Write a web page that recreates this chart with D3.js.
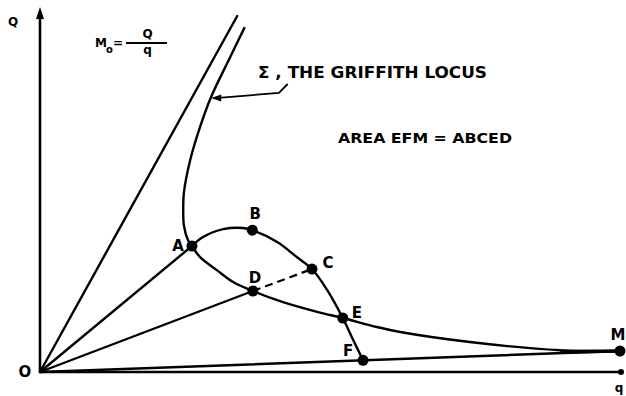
<!DOCTYPE html>
<html>
<head>
<meta charset="utf-8">
<script src="https://cdn.jsdelivr.net/npm/d3@7/dist/d3.min.js"></script>
<style>
  html, body { margin: 0; padding: 0; background: #fff; }
  svg text { font-family: "DejaVu Sans", "Liberation Sans", sans-serif; font-weight: bold; fill: #000; }
</style>
</head>
<body>
<svg id="chart" width="626" height="396"></svg>
<script>
// Load per unit crack length: the Griffith locus and the construction for M0 = Q/q.
// Units are arbitrary (q along the abscissa, Q along the ordinate, both 0..100).

// Griffith locus Σ, from the top of the figure down through A, D, E towards M
const locusQ = [35.3, 32.8, 29.5, 27.6, 25.9, 24.8, 24.7, 24.8, 25.5, 26.2, 27.6, 30.5, 33.3, 36.7, 41.9, 47.8, 52.2, 58.1, 62.1, 74.1, 89.7, 100];
const locusLoad = [95.8, 87.5, 76.4, 68.1, 58.9, 49.7, 45.0, 40.8, 36.7, 35.0, 31.9, 28.3, 25.0, 22.5, 19.4, 16.7, 15.0, 12.5, 11.1, 8.33, 6.05, 5.83];

// Loading path A-B-C-E-F
const pathQ = [26.2, 28.1, 31.6, 35.0, 36.6, 40.9, 44.3, 46.9, 49.5, 52.2, 54.0, 55.7];
const pathLoad = [35.0, 37.5, 39.7, 40.0, 39.4, 36.1, 31.9, 28.6, 22.8, 15.0, 8.9, 3.25];

// Labelled points
const pointNames = ["A", "B", "C", "D", "E", "F", "M"];
const pointQ = [26.2, 36.6, 46.9, 36.7, 52.2, 55.7, 100];
const pointLoad = [35.0, 39.4, 28.6, 22.5, 15.0, 3.25, 5.83];

// Straight lines of constant compliance from the origin, ending at these points
const rayEndQ = [34.0, 26.2, 36.7, 100];
const rayEndLoad = [98.9, 35.0, 22.5, 5.83];

// Label offsets (dx, dy in px) for each named point
const labelDx = [-14, 3, 16, 2, 14, -15, -2];
const labelDy = [0, -16, -6, -13, -5, -9, -16];

// Leader from the Σ caption to the locus
const leaderQ = [42.7, 41.2, 30.2];
const leaderLoad = [80.0, 77.5, 76.1];

const svg = d3.select("#chart");
const x = d3.scaleLinear().domain([0, 100]).range([40, 620]);
const y = d3.scaleLinear().domain([0, 100]).range([372, 12]);

const ink = "#000";
const sw = 2.4;

// Axes: plain lines, no ticks
const xAxis = svg.append("g").attr("transform", `translate(0,${y(0)})`)
  .call(d3.axisBottom(x).ticks(0).tickSizeOuter(0));
xAxis.select(".domain").attr("stroke", ink).attr("stroke-width", 2.6)
  .attr("d", `M${x(0)},0H${x(100) + 1}`);
const yAxis = svg.append("g").attr("transform", `translate(${x(0)},0)`)
  .call(d3.axisLeft(y).ticks(0).tickSizeOuter(0));
yAxis.select(".domain").attr("stroke", ink).attr("stroke-width", 2.6)
  .attr("d", `M0,${y(0)}V${y(100)}`);

// Arrowhead on the ordinate, dot at the end of the abscissa
svg.append("path")
  .attr("d", `M${x(0)},${y(100) - 5}L${x(0) - 4},${y(100) + 7}L${x(0) + 4},${y(100) + 7}Z`)
  .attr("fill", ink);
svg.append("circle").attr("cx", x(100) + 1).attr("cy", y(0)).attr("r", 3).attr("fill", ink);

// Rays from the origin
svg.selectAll("line.ray").data(rayEndQ).join("line")
  .attr("class", "ray")
  .attr("x1", x(0)).attr("y1", y(0))
  .attr("x2", d => x(d)).attr("y2", (d, i) => y(rayEndLoad[i]))
  .attr("stroke", ink).attr("stroke-width", sw).attr("stroke-linecap", "round");

// Griffith locus
const line = d3.line().x(d => x(d[0])).y(d => y(d[1])).curve(d3.curveCatmullRom.alpha(0.5));
svg.append("path")
  .attr("d", line(d3.zip(locusQ, locusLoad)))
  .attr("fill", "none").attr("stroke", ink).attr("stroke-width", sw);

// Loading path A-B-C-E-F
svg.append("path")
  .attr("d", line(d3.zip(pathQ, pathLoad)))
  .attr("fill", "none").attr("stroke", ink).attr("stroke-width", sw);

// Dashed chord D-C
svg.append("line")
  .attr("x1", x(pointQ[3])).attr("y1", y(pointLoad[3]))
  .attr("x2", x(pointQ[2])).attr("y2", y(pointLoad[2]))
  .attr("stroke", ink).attr("stroke-width", 2.2).attr("stroke-dasharray", "8,5");

// Band where the locus runs into OM
svg.append("line")
  .attr("x1", x(89.7)).attr("y1", y(5.6))
  .attr("x2", x(100)).attr("y2", y(5.83))
  .attr("stroke", ink).attr("stroke-width", 3.6);

// Points and their labels
svg.selectAll("circle.pt").data(pointNames).join("circle")
  .attr("class", "pt")
  .attr("cx", (d, i) => x(pointQ[i])).attr("cy", (d, i) => y(pointLoad[i]))
  .attr("r", 5.5).attr("fill", ink);
svg.selectAll("text.pt").data(pointNames).join("text")
  .attr("class", "pt")
  .attr("x", (d, i) => x(pointQ[i]) + labelDx[i])
  .attr("y", (d, i) => y(pointLoad[i]) + labelDy[i])
  .attr("text-anchor", "middle").attr("dominant-baseline", "middle")
  .attr("font-size", 15)
  .text(d => d);

// Axis letters
svg.append("text").attr("x", 13).attr("y", 26).attr("text-anchor", "middle").attr("font-size", 12).text("Q");
svg.append("text").attr("x", 25).attr("y", 377).attr("text-anchor", "middle").attr("font-size", 15).text("O");
svg.append("text").attr("x", 619).attr("y", 392).attr("text-anchor", "middle").attr("font-size", 12).text("q");

// Definition M0 = Q / q
const f = svg.append("g");
f.append("text").attr("x", 95).attr("y", 47).attr("font-size", 12).text("M");
f.append("text").attr("x", 106).attr("y", 53).attr("font-size", 10).text("o");
f.append("text").attr("x", 118).attr("y", 47).attr("text-anchor", "middle").attr("font-size", 12).text("=");
f.append("text").attr("x", 147.5).attr("y", 38).attr("text-anchor", "middle").attr("font-size", 12).text("Q");
f.append("line").attr("x1", 126).attr("x2", 167).attr("y1", 43).attr("y2", 43).attr("stroke", ink).attr("stroke-width", 2);
f.append("text").attr("x", 147.5).attr("y", 54).attr("text-anchor", "middle").attr("font-size", 12).text("q");

// Captions
svg.append("text").attr("x", 258).attr("y", 78).attr("font-size", 15)
  .attr("textLength", 229).attr("lengthAdjust", "spacingAndGlyphs")
  .text("Σ , THE GRIFFITH LOCUS");
svg.append("text").attr("x", 338).attr("y", 143).attr("font-size", 14)
  .attr("textLength", 174).attr("lengthAdjust", "spacingAndGlyphs")
  .text("AREA EFM = ABCED");

// Leader with arrowhead
svg.append("path")
  .attr("d", d3.line()(d3.zip(leaderQ, leaderLoad).map(d => [x(d[0]), y(d[1])])))
  .attr("fill", "none").attr("stroke", ink).attr("stroke-width", 1.8);
const tipX = x(leaderQ[2]) - 2, tipY = y(leaderLoad[2]);
svg.append("path")
  .attr("d", `M${tipX - 2},${tipY}L${tipX + 8},${tipY - 3.5}L${tipX + 8},${tipY + 3.5}Z`)
  .attr("fill", ink);
</script>
</body>
</html>
